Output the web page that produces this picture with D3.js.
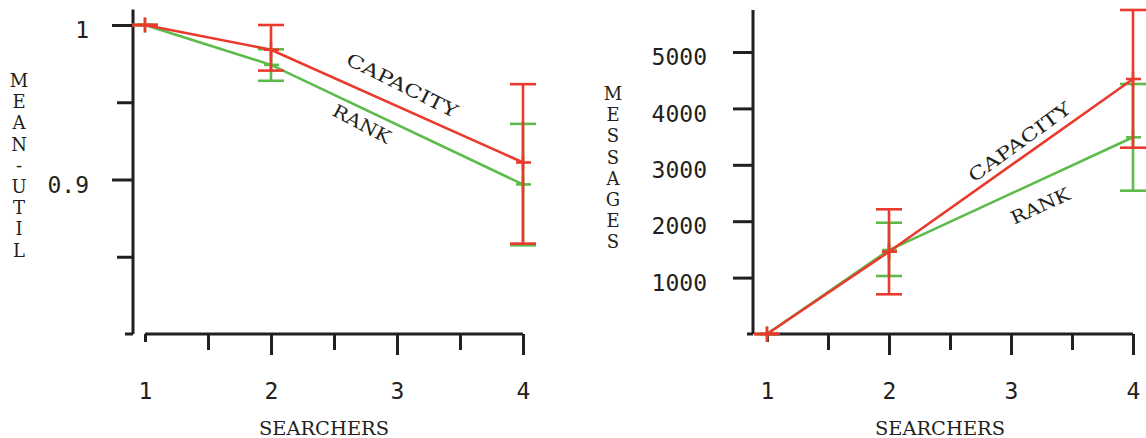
<!DOCTYPE html>
<html>
<head>
<meta charset="utf-8">
<script src="https://cdn.jsdelivr.net/npm/d3@7"></script>
<style>
  body { margin: 0; background: #fff; }
  svg { display: block; }
</style>
</head>
<body>
<script>
// searchers on the x axis, points measured at 1, 2 and 4
const searchers = [1, 2, 3, 4];
const xPoints = [1, 2, 4];

// mean utilisation
const utilCapacity   = [1.0, 0.984, 0.911];
const utilCapacityLo = [1.0, 0.9705, 0.8585];
const utilCapacityHi = [1.0, 1.0, 0.9617];
const utilRank       = [1.0, 0.9742, 0.8968];
const utilRankLo     = [1.0, 0.9639, 0.8574];
const utilRankHi     = [1.0, 0.9843, 0.936];

// messages
const msgCapacity   = [0, 1459, 4521];
const msgCapacityLo = [0, 704, 3303];
const msgCapacityHi = [0, 2211, 5745];
const msgRank       = [0, 1489, 3488];
const msgRankLo     = [0, 1028, 2541];
const msgRankHi     = [0, 1973, 4433];

const utilMajorTicks = [0.9, 1];
const utilMinorTicks = [0.85, 0.95];
const msgTicks = [1000, 2000, 3000, 4000, 5000];

const RED = "#ea3a2e";
const GREEN = "#5dbb4b";
const INK = "#231f20";
const TICK_FONT = "'DejaVu Sans Mono', monospace";
const TITLE_FONT = "'DejaVu Serif', serif";

const svg = d3.select("body").append("svg")
    .attr("width", 1146)
    .attr("height", 438);

function series(vals, lo, hi) {
  return xPoints.map((x, i) => ({x, y: vals[i], lo: lo[i], hi: hi[i]}));
}

function drawPanel(p) {
  const g = svg.append("g");
  const x = d3.scaleLinear().domain([1, 4]).range(p.xRange);
  const y = d3.scaleLinear().domain(p.yDomain).range([334, p.yTop]);
  const x0 = p.yAxisX;
  const y0 = y(p.yDomain[0]);

  // y axis line + foot
  g.append("line").attr("x1", x0).attr("x2", x0).attr("y1", y(p.axisTop)).attr("y2", y0)
      .attr("stroke", INK).attr("stroke-width", 3);
  g.append("line").attr("x1", x0 - p.footLen).attr("x2", x0).attr("y1", y0).attr("y2", y0)
      .attr("stroke", INK).attr("stroke-width", 3);

  // y ticks with labels
  const ya = g.append("g").attr("transform", `translate(${x0},0)`)
      .call(d3.axisLeft(y).tickValues(p.majorTicks).tickSize(p.majorLen).tickPadding(p.labelPad)
        .tickFormat(p.fmt));
  ya.select(".domain").remove();
  ya.selectAll("line").attr("stroke", INK).attr("stroke-width", 3);
  ya.selectAll("text").attr("dy", "0.55em").attr("fill", INK)
      .style("font-family", TICK_FONT).style("font-size", "23px");

  if (p.minorTicks) {
    const ym = g.append("g").attr("transform", `translate(${x0},0)`)
        .call(d3.axisLeft(y).tickValues(p.minorTicks).tickSize(p.minorLen).tickFormat(""));
    ym.select(".domain").remove();
    ym.selectAll("line").attr("stroke", INK).attr("stroke-width", 3);
  }

  // x axis line
  g.append("line").attr("x1", x(1)).attr("x2", x(4)).attr("y1", y0).attr("y2", y0)
      .attr("stroke", INK).attr("stroke-width", 3);
  const xa = g.append("g").attr("transform", `translate(0,${y0})`)
      .call(d3.axisBottom(x).tickValues(searchers.slice(1)).tickSize(21).tickPadding(28)
        .tickFormat(d3.format("d")));
  xa.select(".domain").remove();
  xa.selectAll("line").attr("stroke", INK).attr("stroke-width", 3);
  xa.selectAll("text").attr("fill", INK)
      .style("font-family", TICK_FONT).style("font-size", "23px");
  const xf = g.append("g").attr("transform", `translate(0,${y0})`)
      .call(d3.axisBottom(x).tickValues([searchers[0]]).tickSize(8).tickPadding(41)
        .tickFormat(d3.format("d")));
  xf.select(".domain").remove();
  xf.selectAll("line").attr("stroke", INK).attr("stroke-width", 3);
  xf.selectAll("text").attr("fill", INK)
      .style("font-family", TICK_FONT).style("font-size", "23px");
  const xm = g.append("g").attr("transform", `translate(0,${y0})`)
      .call(d3.axisBottom(x).tickValues([1.5, 2.5, 3.5]).tickSize(16).tickFormat(""));
  xm.select(".domain").remove();
  xm.selectAll("line").attr("stroke", INK).attr("stroke-width", 3);

  // titles
  g.append("text")
      .attr("x", (x(1) + x(4)) / 2 - 10).attr("y", 435)
      .attr("text-anchor", "middle")
      .attr("textLength", 130).attr("lengthAdjust", "spacingAndGlyphs")
      .style("font-family", TITLE_FONT).style("font-size", "18px").attr("fill", INK)
      .text("SEARCHERS");

  const letters = p.yTitle.split("");
  g.append("g").selectAll("text").data(letters).join("text")
      .attr("x", p.yTitleX)
      .attr("y", (d, i) => p.yTitleTop + i * 21.2)
      .attr("text-anchor", "middle")
      .style("font-family", TITLE_FONT).style("font-size", "18px").attr("fill", INK)
      .text(d => d);

  // series: green below, red on top
  const line = d3.line().x(d => x(d.x)).y(d => y(d.y));
  for (const s of p.series) {
    g.append("path").datum(s.data)
        .attr("fill", "none").attr("stroke", s.color).attr("stroke-width", 2.6)
        .attr("d", line);
    const eb = g.append("g").attr("stroke", s.color).attr("stroke-width", 2.6);
    eb.selectAll(".v").data(s.data).join("line")
        .attr("x1", d => x(d.x)).attr("x2", d => x(d.x))
        .attr("y1", d => y(d.hi)).attr("y2", d => y(d.lo));
    eb.selectAll(".ch").data(s.data).join("line")
        .attr("x1", d => x(d.x) - 13).attr("x2", d => x(d.x) + 13)
        .attr("y1", d => y(d.hi)).attr("y2", d => y(d.hi));
    eb.selectAll(".cl").data(s.data).join("line")
        .attr("x1", d => x(d.x) - 13).attr("x2", d => x(d.x) + 13)
        .attr("y1", d => y(d.lo)).attr("y2", d => y(d.lo));
    // "+" marker at the mean
    eb.selectAll(".mh").data(s.data).join("line")
        .attr("x1", d => x(d.x) - 7).attr("x2", d => x(d.x) + 8)
        .attr("y1", d => y(d.y)).attr("y2", d => y(d.y));
    eb.selectAll(".mv").data(s.data).join("line")
        .attr("x1", d => x(d.x)).attr("x2", d => x(d.x))
        .attr("y1", d => y(d.y) - 7.5).attr("y2", d => y(d.y) + 7.5);
  }

  // line labels
  for (const l of p.labels) {
    g.append("text")
        .attr("transform", `translate(${x(l.x)},${y(l.y)}) rotate(${l.angle})`)
        .attr("text-anchor", "middle").attr("dy", "0.35em")
        .attr("textLength", l.len).attr("lengthAdjust", "spacingAndGlyphs")
        .style("font-family", TITLE_FONT).style("font-size", "18px").attr("fill", INK)
        .text(l.text);
  }
}

drawPanel({
  xRange: [145, 523],
  yDomain: [0.8, 1],
  yTop: 25,
  axisTop: 1.01,
  yAxisX: 133,
  footLen: 8,
  majorTicks: utilMajorTicks,
  minorTicks: utilMinorTicks,
  majorLen: 21,
  minorLen: 16,
  labelPad: 23,
  fmt: d => d === 1 ? "1" : d3.format(".1f")(d),
  yTitle: "MEAN-UTIL",
  yTitleX: 19,
  yTitleTop: 87,
  series: [
    {color: GREEN, data: series(utilRank, utilRankLo, utilRankHi)},
    {color: RED, data: series(utilCapacity, utilCapacityLo, utilCapacityHi)}
  ],
  labels: [
    {text: "CAPACITY", x: 3.04, y: 0.961, angle: 26.5, len: 122},
    {text: "RANK", x: 2.72, y: 0.936, angle: 28, len: 63}
  ]
});

drawPanel({
  xRange: [767, 1133],
  yDomain: [0, 5000],
  yTop: 52,
  axisTop: 5745,
  yAxisX: 753,
  footLen: 6,
  majorTicks: msgTicks,
  minorTicks: null,
  majorLen: 20,
  labelPad: 26,
  fmt: d3.format("d"),
  yTitle: "MESSAGES",
  yTitleX: 613,
  yTitleTop: 100,
  series: [
    {color: GREEN, data: series(msgRank, msgRankLo, msgRankHi)},
    {color: RED, data: series(msgCapacity, msgCapacityLo, msgCapacityHi)}
  ],
  labels: [
    {text: "CAPACITY", x: 3.07, y: 3404, angle: -36, len: 122},
    {text: "RANK", x: 3.24, y: 2270, angle: -24.5, len: 63}
  ]
});
</script>
</body>
</html>
